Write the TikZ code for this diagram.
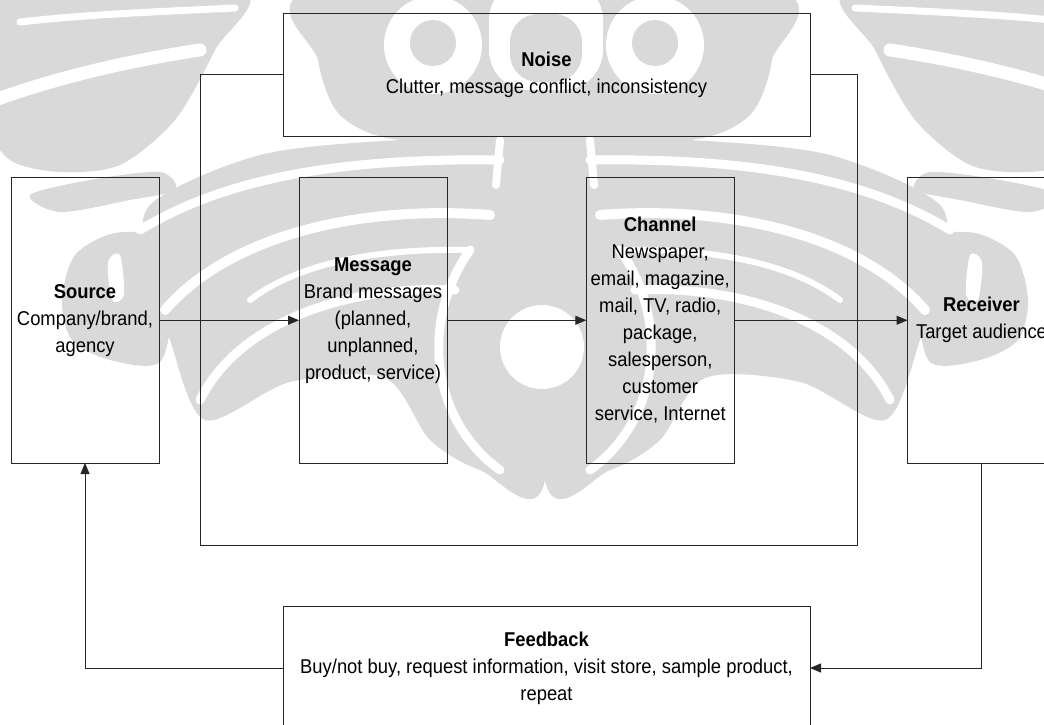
\documentclass[tikz,border=0pt]{standalone}
\usepackage{fontspec}
\setmainfont[FakeStretch=0.92]{Liberation Sans}
\usetikzlibrary{arrows.meta}

% Background ornament, split in layers so that each half can be mirrored
\newcommand\ornamentfill{%
  % corner swirl
  \fill[wm] plot[smooth cycle] coordinates {(-10,-10) (240,-10) (215,50) (175,120) (120,165) (60,172) (10,160) (-10,120)};
  % crescent and lobe inside the side box
  \fill[wm] plot[smooth cycle] coordinates {(30,195) (90,180) (160,172) (175,190) (130,200) (60,212)};
  \fill[wm] plot[smooth cycle] coordinates {(62,300) (75,255) (115,233) (160,240) (172,300) (160,362) (110,360) (72,340)};
  % wing
  \fill[wm] plot[smooth cycle] coordinates {(150,205) (260,155) (400,140) (545,138) (545,480) (480,470) (430,440) (385,378) (290,382) (205,420) (170,340) (150,270)};
}
\newcommand\ornamentgaps{%
  \draw[gap, line width=13pt] (-5,100) .. controls (50,80) and (120,62) .. (200,50);
  \draw[gap, line width=7pt] (20,22) .. controls (80,15) and (150,12) .. (235,8);
  \fill[gapfill] plot[smooth cycle] coordinates {(108,262) (120,255) (124,295) (112,300)};
  \draw[gap, line width=9pt] (140,230) .. controls (230,175) and (350,158) .. (500,160);
  \draw[gap, line width=10pt] (165,310) .. controls (230,235) and (360,205) .. (490,215);
  \draw[gap, line width=6pt] (250,300) .. controls (300,262) and (380,248) .. (470,250);
  \draw[gap, line width=9pt] (200,400) .. controls (240,320) and (350,285) .. (455,290);
  \draw[gap, line width=9pt] (470,250) .. controls (420,320) and (430,420) .. (500,470);
  \draw[gap, line width=8pt] (500,140) -- (496,185);
}

\begin{document}
\begin{tikzpicture}[x=1pt, y=-1pt,
  wm/.style={fill=black!15},
  gap/.style={draw=white, line cap=round},
  gapfill/.style={fill=white},
  stage/.style={draw=black!85, line width=1pt, inner sep=2pt, outer sep=0pt,
    align=center, font=\fontsize{20}{27}\selectfont},
  link/.style={draw=black!85, line width=1pt},
  flow/.style={link, -{Triangle[length=11pt, width=9pt]}}]
\useasboundingbox (0,0) rectangle (1044,725);

\begin{scope}
  \clip (0,0) rectangle (1044,725);
  \ornamentfill
  \begin{scope}[xshift=1090pt, xscale=-1]\ornamentfill\end{scope}
  % central bulb
  \fill[wm] (546,368) ellipse [x radius=100, y radius=108];
  % crown
  \fill[wm] plot[smooth cycle] coordinates {(318,-10) (770,-10) (772,60) (750,115) (690,140) (546,136) (400,140) (340,115) (318,60)};
  \ornamentgaps
  \begin{scope}[xshift=1090pt, xscale=-1]\ornamentgaps\end{scope}
  \fill[gapfill] (542,347) circle (42);
  \fill[gapfill] (433,45) circle (49);
  \fill[gapfill] (655,45) circle (49);
  \fill[gapfill, rounded corners=40pt] (489,-20) rectangle (603,90);
  \fill[wm] (433,43) circle (23);
  \fill[wm] (655,43) circle (23);
  \fill[wm, rounded corners=28pt] (510,14) rectangle (582,82);
\end{scope}

% stages of the communication process
\node[stage, minimum width=527pt, minimum height=122pt] (noise) at (546.5,75)
  {\textbf{Noise}\\Clutter, message conflict, inconsistency};
\node[stage, minimum width=148pt, minimum height=285.5pt] (source) at (85,320.25)
  {\textbf{Source}\\Company/brand,\\agency};
\node[stage, minimum width=148pt, minimum height=285.5pt] (message) at (373,320.25)
  {\textbf{Message}\\Brand messages\\(planned,\\unplanned,\\product, service)};
\node[stage, minimum width=148pt, minimum height=285.5pt] (channel) at (660.25,320.25)
  {\textbf{Channel}\\Newspaper,\\email, magazine,\\mail, TV, radio,\\package,\\salesperson,\\customer\\service, Internet};
\node[stage, minimum width=148pt, minimum height=285.5pt] (receiver) at (981.5,320.25)
  {\textbf{Receiver}\\Target audience};
\node[stage, minimum width=527pt, minimum height=123pt] (feedback) at (546.5,668)
  {\textbf{Feedback}\\Buy/not buy, request information, visit store, sample product,\\repeat};

% environment in which noise acts
\coordinate (envtl) at (200,75);
\coordinate (envbr) at (857.5,545.5);
\draw[link] (noise.west) -- (envtl) |- (envbr) |- (noise.east);

% message flow and feedback loop
\draw[flow] (source.east) -- (message.west);
\draw[flow] (message.east) -- (channel.west);
\draw[flow] (channel.east) -- (receiver.west);
\draw[flow] (receiver.south) |- (feedback.east);
\draw[flow] (feedback.west) -| (source.south);
\end{tikzpicture}
\end{document}
